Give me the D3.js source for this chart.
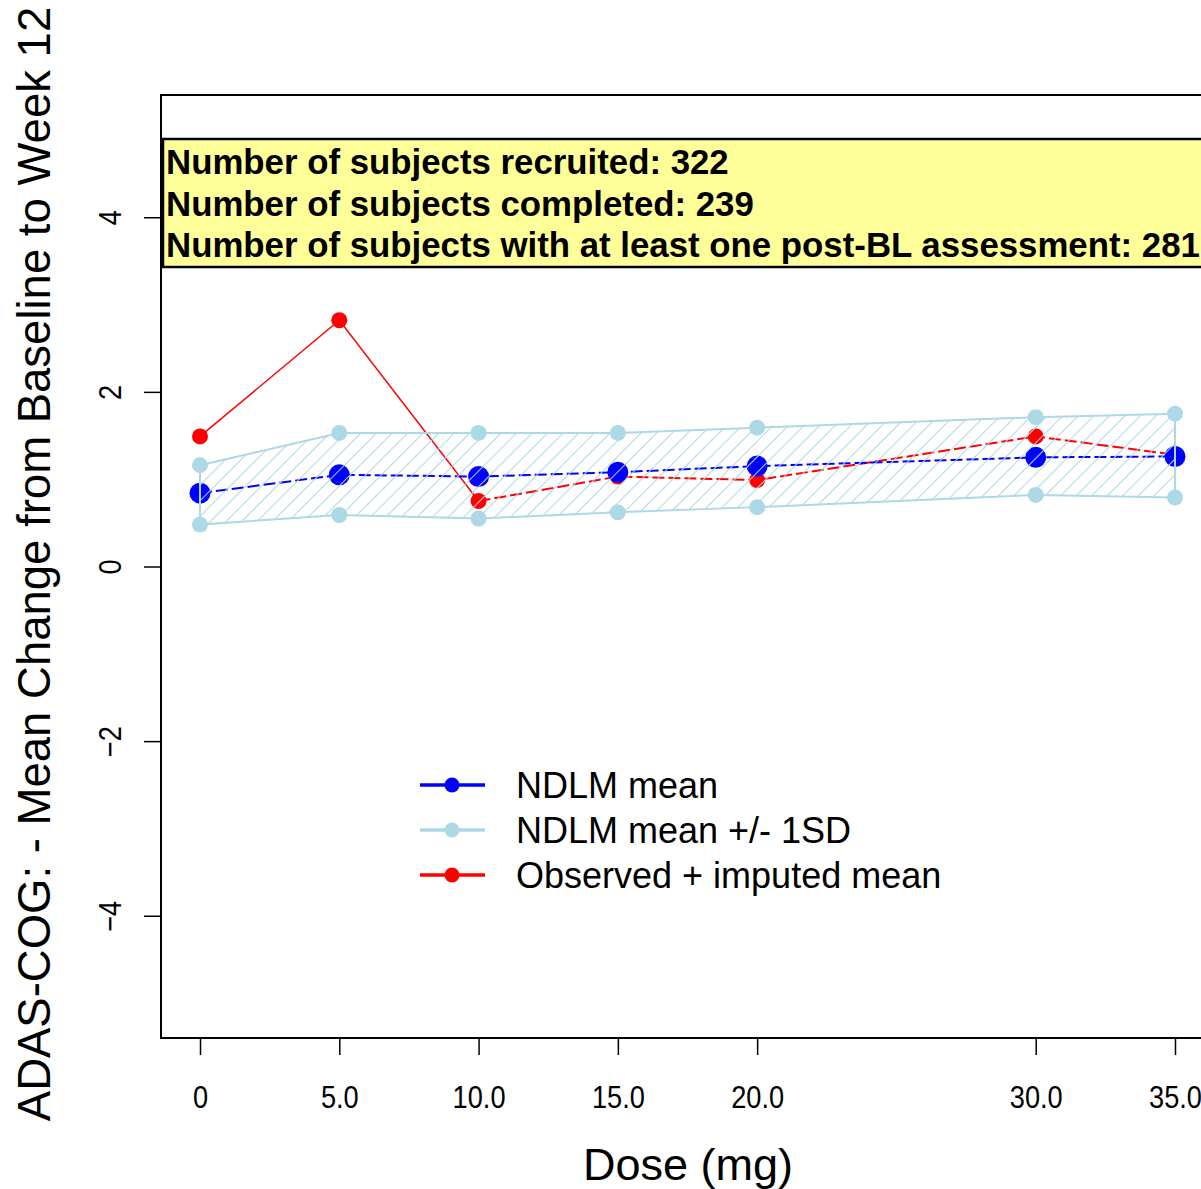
<!DOCTYPE html>
<html>
<head>
<meta charset="utf-8">
<script src="https://cdn.jsdelivr.net/npm/d3@7"></script>
<style>
  body { margin: 0; background: #fff; }
  svg text { font-family: "Liberation Sans", Arial, sans-serif; }
</style>
</head>
<body>
<div id="chart"></div>
<script>
// doses and the three series
const doses = [0, 5, 10, 15, 20, 30, 35];
const xTickLabels = ["0", "5.0", "10.0", "15.0", "20.0", "30.0", "35.0"];
const yTicks = [-4, -2, 0, 2, 4];
const ndlmMean = [0.84, 1.05, 1.03, 1.08, 1.15, 1.25, 1.26];
const ndlmUpper = [1.16, 1.53, 1.53, 1.53, 1.59, 1.71, 1.75];
const ndlmLower = [0.48, 0.59, 0.55, 0.62, 0.68, 0.82, 0.79];
const observedMean = [1.49, 2.82, 0.75, 1.03, 0.99, 1.49, 1.28];
const infoLines = [
  "Number of subjects recruited: 322",
  "Number of subjects completed: 239",
  "Number of subjects with at least one post-BL assessment: 281"
];
const legendLabels = ["NDLM mean", "NDLM mean +/- 1SD", "Observed + imputed mean"];
const legendColors = ["#0000ff", "#add8e6", "#ff0000"];

const W = 1201, H = 1189;
const plot = { left: 161, top: 95, right: 1214, bottom: 1038 };

const svg = d3.select("#chart").append("svg")
  .attr("width", W)
  .attr("height", H);

const x = d3.scaleLinear().domain([-1.4, 36.4]).range([plot.left, plot.right]);
const y = d3.scaleLinear().domain([-5.4, 5.4]).range([plot.bottom, plot.top]);

// hatch pattern for the +/- 1SD band
const defs = svg.append("defs");
defs.append("pattern")
  .attr("id", "hatch")
  .attr("patternUnits", "userSpaceOnUse")
  .attr("width", 11).attr("height", 11)
  .attr("patternTransform", "rotate(45)")
  .append("line")
  .attr("x1", 0).attr("y1", 0).attr("x2", 0).attr("y2", 11)
  .attr("stroke", "#add8e6").attr("stroke-width", 2);

// x axis
const xAxis = svg.append("g")
  .attr("transform", "translate(0," + plot.bottom + ")")
  .call(d3.axisBottom(x).tickValues(doses).tickSize(17).tickPadding(0)
    .tickFormat((d, i) => xTickLabels[i]));
xAxis.select(".domain").remove();
xAxis.selectAll("line").attr("stroke", "#000").attr("stroke-width", 1.5);
xAxis.selectAll("text")
  .attr("y", 0).attr("dy", 0)
  .attr("transform", "translate(0,70) scale(0.85,1)")
  .attr("font-size", 32)
  .attr("fill", "#000");

// y axis
const yAxis = svg.append("g")
  .attr("transform", "translate(" + plot.left + ",0)")
  .call(d3.axisLeft(y).tickValues(yTicks).tickSize(17).tickPadding(0));
yAxis.select(".domain").remove();
yAxis.selectAll("line").attr("stroke", "#000").attr("stroke-width", 1.5);
yAxis.selectAll("text")
  .attr("x", 0).attr("y", 0).attr("dy", 0)
  .attr("text-anchor", "middle")
  .attr("transform", "translate(-40,0) rotate(-90) scale(0.85,1)")
  .attr("font-size", 32)
  .attr("fill", "#000");

// band
const band = doses.map((d, i) => [x(d), y(ndlmUpper[i])])
  .concat(doses.map((d, i) => [x(d), y(ndlmLower[i])]).reverse());

// light blue points
const sdPts = doses.map((d, i) => [d, ndlmUpper[i]]).concat(doses.map((d, i) => [d, ndlmLower[i]]));
svg.append("g").selectAll("circle").data(sdPts).join("circle")
  .attr("cx", d => x(d[0])).attr("cy", d => y(d[1])).attr("r", 8)
  .attr("fill", "#add8e6");

// observed + imputed mean
const line = d3.line().x(d => x(d[0])).y(d => y(d[1]));
const obs = doses.map((d, i) => [d, observedMean[i]]);
svg.append("path").attr("d", line(obs.slice(0, 3)))
  .attr("fill", "none").attr("stroke", "#ff0000").attr("stroke-width", 1.5);
svg.append("path").attr("d", line(obs.slice(2)))
  .attr("fill", "none").attr("stroke", "#ff0000").attr("stroke-width", 2)
  .attr("stroke-dasharray", "12,4");
svg.append("g").selectAll("circle").data(obs).join("circle")
  .attr("cx", d => x(d[0])).attr("cy", d => y(d[1])).attr("r", 8)
  .attr("fill", "#ff0000");

// NDLM mean
const mean = doses.map((d, i) => [d, ndlmMean[i]]);
svg.append("path").attr("d", line(mean))
  .attr("fill", "none").attr("stroke", "#0000ff").attr("stroke-width", 2)
  .attr("stroke-dasharray", "12,4");
svg.append("g").selectAll("circle").data(mean).join("circle")
  .attr("cx", d => x(d[0])).attr("cy", d => y(d[1])).attr("r", 10.5)
  .attr("fill", "#0000ff");

// hatched polygon on top
svg.append("polygon")
  .attr("points", band.map(p => p.join(",")).join(" "))
  .attr("fill", "url(#hatch)")
  .attr("stroke", "#add8e6").attr("stroke-width", 2);

// frame
svg.append("rect")
  .attr("x", plot.left).attr("y", plot.top)
  .attr("width", plot.right - plot.left).attr("height", plot.bottom - plot.top)
  .attr("fill", "none").attr("stroke", "#000").attr("stroke-width", 2);

// info box
svg.append("rect")
  .attr("x", 163).attr("y", 139).attr("width", 1060).attr("height", 128)
  .attr("fill", "#ffff99").attr("stroke", "#000").attr("stroke-width", 2.5);
svg.append("g").selectAll("text").data(infoLines).join("text")
  .attr("x", 166).attr("y", (d, i) => 174 + i * 41.5)
  .attr("font-size", 34.8).attr("font-weight", "bold")
  .text(d => d);

// legend
const lg = svg.append("g").selectAll("g").data(legendLabels).join("g")
  .attr("transform", (d, i) => "translate(0," + (785 + i * 45) + ")");
lg.append("line").attr("x1", 420).attr("x2", 485)
  .attr("stroke", (d, i) => legendColors[i]).attr("stroke-width", 3.5);
lg.append("circle").attr("cx", 452).attr("r", 7.5)
  .attr("fill", (d, i) => legendColors[i]);
lg.append("text").attr("x", 516).attr("y", 13)
  .attr("font-size", 36).text(d => d);

// axis titles
svg.append("text")
  .attr("x", 688).attr("y", 1180)
  .attr("text-anchor", "middle").attr("font-size", 45)
  .text("Dose (mg)");
svg.append("text")
  .attr("transform", "translate(50,564) rotate(-90)")
  .attr("text-anchor", "middle").attr("font-size", 45.5)
  .text("ADAS-COG: - Mean Change from Baseline to Week 12");
</script>
</body>
</html>
